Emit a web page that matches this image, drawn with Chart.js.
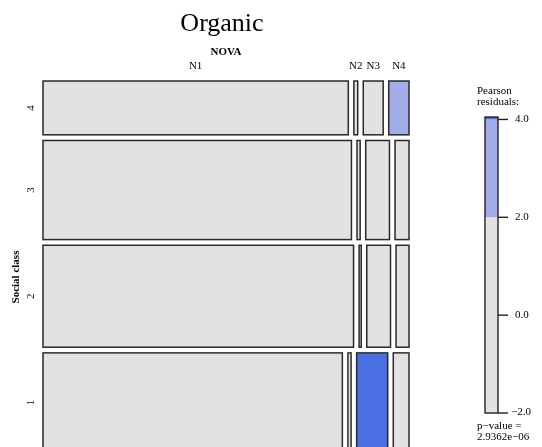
<!DOCTYPE html>
<html>
<head>
<meta charset="utf-8">
<script src="https://cdn.jsdelivr.net/npm/chart.js@4"></script>
<style>
  html, body { margin: 0; padding: 0; background: #ffffff; overflow: hidden; }
  #wrap { width: 542px; height: 447px; overflow: hidden; }
</style>
</head>
<body>
<div id="wrap"><canvas id="mosaic" width="542" height="452"></canvas></div>
<script>
// NOVA food-processing groups (columns) and social classes (rows)
const novaGroups = ['N1', 'N2', 'N3', 'N4'];
const socialClasses = ['1', '2', '3', '4'];

// Share of the sample in each social class (%), classes 1..4
const classShare = [28.0, 28.8, 28.0, 15.2];

// Distribution of NOVA groups inside each social class (%)
const novaClass1 = [85.7, 0.9, 8.9, 4.5];
const novaClass2 = [88.9, 0.6, 6.8, 3.7];
const novaClass3 = [88.3, 0.9, 6.8, 4.0];
const novaClass4 = [87.4, 1.1, 5.7, 5.8];

// Pearson residuals of each cell
const residClass1 = [-0.9, -0.2, 4.05, -0.4];
const residClass2 = [0.4, -0.8, -0.3, -0.9];
const residClass3 = [0.3, 0.1, -0.5, -1.1];
const residClass4 = [-0.4, 0.6, -1.2, 3.1];

// Residual legend
const legendRange = [-2, 4.05];
const legendTicks = [-2, 0, 2, 4];
const pValueText = '2.9362e\u221206';

const novaByClass = [novaClass1, novaClass2, novaClass3, novaClass4];
const residByClass = [residClass1, residClass2, residClass3, residClass4];

const GAP_X = 0.0152;   // space between tiles, in axis units
const GAP_Y = 0.0153;
const SERIF = '"Liberation Serif", "DejaVu Serif", serif';

function shade(r) {
  if (r > 4) return '#4a6fe3';
  if (r > 2) return '#a2ace8';
  if (r < -4) return '#df4a4a';
  if (r < -2) return '#e8a0a0';
  return '#e2e2e2';
}

// Build tile rectangles (in axis units 0..1) from the shares above.
function buildTiles() {
  const tiles = [];
  const contentY = 1 - GAP_Y * (socialClasses.length - 1);
  const totalShare = classShare.reduce((a, b) => a + b, 0);
  // rows drawn top to bottom: class 4, 3, 2, 1
  let yTop = 1;
  for (let k = socialClasses.length - 1; k >= 0; k--) {
    const h = classShare[k] / totalShare * contentY;
    const row = novaByClass[k];
    const rowSum = row.reduce((a, b) => a + b, 0);
    const contentX = 1 - GAP_X * (novaGroups.length - 1);
    let x = 0;
    for (let j = 0; j < novaGroups.length; j++) {
      const w = row[j] / rowSum * contentX;
      tiles.push({ cls: k, nova: j, x0: x, x1: x + w, y0: yTop - h, y1: yTop, r: residByClass[k][j] });
      x += w + GAP_X;
    }
    yTop -= h + GAP_Y;
  }
  return tiles;
}

const tiles = buildTiles();

const mosaicPlugin = {
  id: 'mosaic',
  afterDraw(chart) {
    const ctx = chart.ctx;
    const xs = chart.scales.x, ys = chart.scales.y;
    const area = chart.chartArea;
    ctx.save();

    // tiles
    tiles.forEach(t => {
      const px0 = xs.getPixelForValue(t.x0), px1 = xs.getPixelForValue(t.x1);
      const py0 = ys.getPixelForValue(t.y1), py1 = ys.getPixelForValue(t.y0);
      ctx.fillStyle = shade(t.r);
      ctx.fillRect(px0, py0, px1 - px0, py1 - py0);
      ctx.lineWidth = 1.5;
      ctx.strokeStyle = '#2a2a2a';
      ctx.strokeRect(px0, py0, px1 - px0, py1 - py0);
    });

    // title
    ctx.fillStyle = '#000';
    ctx.textAlign = 'center';
    ctx.textBaseline = 'alphabetic';
    ctx.font = '26px ' + SERIF;
    ctx.fillText('Organic', (area.left + area.right) / 2 - 4, 31);

    // column variable and labels (over the top row)
    ctx.textBaseline = 'middle';
    ctx.font = 'bold 11px ' + SERIF;
    ctx.fillText('NOVA', (area.left + area.right) / 2, 52);
    ctx.font = '11px ' + SERIF;
    tiles.filter(t => t.cls === socialClasses.length - 1).forEach(t => {
      const cx = (xs.getPixelForValue(t.x0) + xs.getPixelForValue(t.x1)) / 2;
      ctx.fillText(novaGroups[t.nova], cx, 66);
    });

    // row variable and labels
    tiles.filter(t => t.nova === 0).forEach(t => {
      const cy = (ys.getPixelForValue(t.y0) + ys.getPixelForValue(t.y1)) / 2;
      ctx.save();
      ctx.translate(31, cy);
      ctx.rotate(-Math.PI / 2);
      ctx.font = '11px ' + SERIF;
      ctx.fillText(socialClasses[t.cls], 0, 0);
      ctx.restore();
    });
    ctx.save();
    ctx.translate(16, 277);
    ctx.rotate(-Math.PI / 2);
    ctx.font = 'bold 11px ' + SERIF;
    ctx.fillText('Social class', 0, 0);
    ctx.restore();

    // residual legend
    const lx0 = 485, lx1 = 498, lTop = 117, lBot = 413;
    const lv = v => lBot - (v - legendRange[0]) / (legendRange[1] - legendRange[0]) * (lBot - lTop);
    ctx.textAlign = 'left';
    ctx.font = '11px ' + SERIF;
    ctx.fillText('Pearson', 477, 91);
    ctx.fillText('residuals:', 477, 102);
    const bands = [[legendRange[0], 2], [2, 4], [4, legendRange[1]]];
    bands.forEach(([a, b]) => {
      ctx.fillStyle = shade((a + b) / 2);
      ctx.fillRect(lx0, lv(b), lx1 - lx0, lv(a) - lv(b));
    });
    ctx.strokeStyle = '#222';
    ctx.lineWidth = 1.4;
    ctx.strokeRect(lx0, lTop, lx1 - lx0, lBot - lTop);
    ctx.fillStyle = '#000';
    legendTicks.forEach(v => {
      const y = lv(v);
      ctx.beginPath();
      ctx.moveTo(lx1, y);
      ctx.lineTo(lx1 + 10, y);
      ctx.stroke();
      const lbl = (v < 0 ? '\u2212' : '') + Math.abs(v).toFixed(1);
      ctx.fillText(lbl, v < 0 ? 511 : 515, v === legendRange[0] ? y - 1 : y);
    });
    ctx.fillText('p\u2212value =', 477, 426);
    ctx.fillText(pValueText, 477, 437);

    ctx.restore();
  }
};

new Chart(document.getElementById('mosaic'), {
  type: 'scatter',
  data: { datasets: [] },
  options: {
    responsive: false,
    animation: false,
    layout: { padding: { left: 43, right: 133, top: 81, bottom: 0 } },
    plugins: { legend: { display: false }, tooltip: { enabled: false }, title: { display: false } },
    scales: {
      x: { type: 'linear', min: 0, max: 1, display: false },
      y: { type: 'linear', min: 0, max: 1, display: false }
    }
  },
  plugins: [mosaicPlugin]
});
</script>
</body>
</html>
